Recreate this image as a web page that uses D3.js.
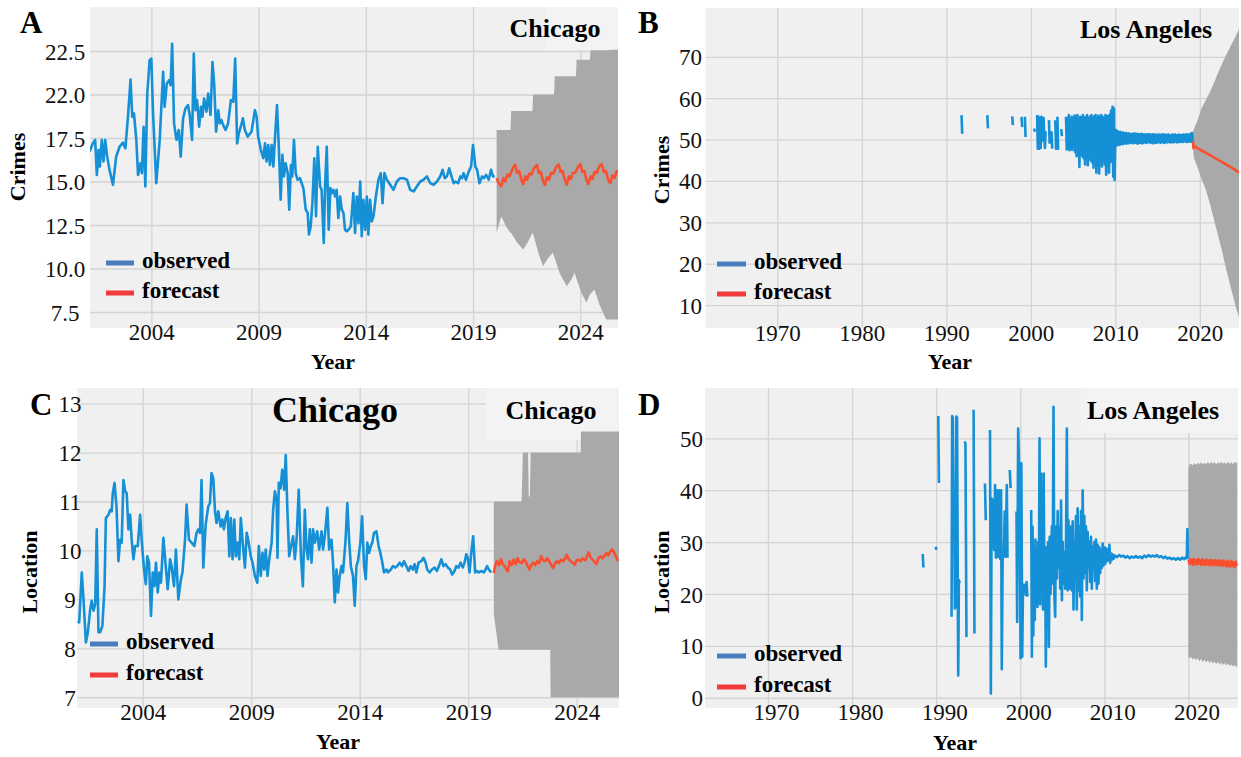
<!DOCTYPE html>
<html><head><meta charset="utf-8">
<script src="https://cdn.jsdelivr.net/npm/d3@7"></script>
<style>body{margin:0;background:#fff}svg{display:block}svg text{font-family:"Liberation Serif","Times New Roman",Times,serif}</style>
</head><body>
<svg id="c" width="1241" height="757"></svg>
<script>
// ---------------- DATA ----------------
const yearTicksChi = [2004, 2009, 2014, 2019, 2024];
const yearTicksLA = [1970, 1980, 1990, 2000, 2010, 2020];
const crimeTicksChi = [7.5, 10, 12.5, 15, 17.5, 20, 22.5];
const crimeLabelsChi = ["7.5", "10.0", "12.5", "15.0", "17.5", "22.0", "22.5"];
const crimeTicksLA = [10, 20, 30, 40, 50, 60, 70];
const locTicksChi = [7, 8, 9, 10, 11, 12, 13];
const locTicksLA = [0, 10, 20, 30, 40, 50];

// A: Chicago crimes, observed [year, value]
const chiCrimeObs = [[2001.12,16.72],[2001.27,17.19],[2001.38,17.39],[2001.46,15.38],[2001.54,16.81],[2001.60,15.86],[2001.69,17.39],[2001.77,16.15],[2001.85,17.39],[2001.94,16.43],[2002.05,15.67],[2002.21,14.81],[2002.36,16.43],[2002.52,17.00],[2002.68,17.23],[2002.79,16.91],[2002.91,18.72],[2003.03,20.86],[2003.11,18.72],[2003.19,18.91],[2003.30,17.39],[2003.38,15.38],[2003.49,16.05],[2003.56,15.48],[2003.64,18.15],[2003.72,14.71],[2003.81,20.06],[2003.92,21.97],[2004.00,22.06],[2004.08,18.91],[2004.23,14.90],[2004.39,17.39],[2004.55,21.30],[2004.62,19.29],[2004.72,20.63],[2004.83,20.82],[2004.90,20.53],[2004.97,22.92],[2005.06,18.34],[2005.17,17.39],[2005.28,17.96],[2005.37,16.43],[2005.48,18.63],[2005.59,19.20],[2005.71,19.39],[2005.79,18.82],[2005.90,17.39],[2005.98,22.35],[2006.06,19.10],[2006.13,19.68],[2006.23,18.15],[2006.31,19.29],[2006.38,18.72],[2006.46,19.77],[2006.57,19.01],[2006.65,20.06],[2006.76,18.82],[2006.85,21.87],[2006.93,20.63],[2007.02,17.86],[2007.12,19.10],[2007.19,18.34],[2007.27,18.53],[2007.35,18.24],[2007.46,17.96],[2007.58,18.34],[2007.71,19.68],[2007.82,19.58],[2007.91,22.06],[2008.00,17.19],[2008.08,17.77],[2008.17,18.15],[2008.27,18.63],[2008.36,17.96],[2008.49,17.58],[2008.67,17.86],[2008.83,19.10],[2008.91,18.72],[2008.98,17.58],[2009.11,16.81],[2009.22,16.34],[2009.30,17.19],[2009.37,16.15],[2009.45,17.10],[2009.53,15.95],[2009.61,17.10],[2009.69,15.86],[2009.76,17.39],[2009.86,19.39],[2009.95,16.81],[2010.03,13.95],[2010.11,16.53],[2010.18,15.29],[2010.26,16.05],[2010.36,15.48],[2010.43,13.38],[2010.51,15.95],[2010.57,15.29],[2010.65,17.39],[2010.73,15.48],[2010.82,15.10],[2010.93,15.19],[2011.09,14.62],[2011.20,13.38],[2011.29,13.19],[2011.35,11.95],[2011.43,12.42],[2011.51,13.76],[2011.60,16.34],[2011.68,13.00],[2011.76,17.00],[2011.87,14.71],[2011.94,14.52],[2012.04,11.47],[2012.10,14.71],[2012.18,17.00],[2012.27,12.23],[2012.35,14.62],[2012.41,14.33],[2012.49,14.52],[2012.57,14.14],[2012.64,14.52],[2012.72,12.90],[2012.80,14.14],[2012.88,13.38],[2012.96,13.19],[2013.03,12.23],[2013.11,12.14],[2013.19,12.23],[2013.30,12.42],[2013.42,14.33],[2013.50,12.04],[2013.58,14.14],[2013.66,12.61],[2013.74,15.00],[2013.81,11.85],[2013.89,13.95],[2013.97,12.23],[2014.05,14.14],[2014.12,11.95],[2014.20,13.95],[2014.28,12.71],[2014.36,13.00],[2014.47,14.14],[2014.59,15.10],[2014.70,15.48],[2014.78,13.76],[2014.87,15.48],[2014.98,15.10],[2015.14,14.81],[2015.29,14.52],[2015.45,15.00],[2015.60,15.19],[2015.76,15.19],[2015.92,15.10],[2016.07,14.52],[2016.23,14.43],[2016.38,14.71],[2016.54,15.00],[2016.69,15.10],[2016.85,15.29],[2017.01,14.90],[2017.16,14.81],[2017.32,15.00],[2017.47,15.29],[2017.58,15.67],[2017.68,15.19],[2017.78,15.29],[2017.89,15.76],[2018.02,15.19],[2018.10,14.90],[2018.17,15.00],[2018.30,14.90],[2018.41,15.29],[2018.49,15.19],[2018.56,15.48],[2018.67,15.10],[2018.80,15.57],[2018.91,15.86],[2019.00,17.10],[2019.11,15.86],[2019.19,15.67],[2019.30,14.90],[2019.42,15.29],[2019.50,15.19],[2019.61,15.38],[2019.73,15.10],[2019.84,15.67],[2019.93,15.29],[2020.01,15.32]];
const chiCrimeFc = [[2020.10,15.2],[2020.20,14.9],[2020.32,14.73],[2020.42,15.2],[2020.50,15.0],[2020.60,15.4],[2020.70,15.3],[2020.85,15.75],[2020.96,15.97],[2021.05,15.5],[2021.15,15.6],[2021.25,15.1],[2021.34,14.85],[2021.44,15.3],[2021.52,15.1],[2021.62,15.45],[2021.72,15.4],[2021.86,15.8],[2021.98,15.95],[2022.07,15.5],[2022.16,15.55],[2022.26,15.05],[2022.35,14.8],[2022.45,15.25],[2022.54,15.1],[2022.64,15.5],[2022.74,15.45],[2022.88,15.85],[2023.00,15.97],[2023.09,15.55],[2023.18,15.6],[2023.28,15.1],[2023.37,14.82],[2023.47,15.3],[2023.56,15.15],[2023.66,15.5],[2023.76,15.5],[2023.90,15.85],[2024.00,16.0],[2024.10,15.55],[2024.19,15.6],[2024.29,15.1],[2024.38,14.85],[2024.48,15.3],[2024.57,15.15],[2024.67,15.55],[2024.77,15.5],[2024.90,15.9],[2025.00,16.0],[2025.10,15.55],[2025.20,15.6],[2025.30,15.1],[2025.40,14.9],[2025.50,15.35],[2025.60,15.2],[2025.70,15.6],[2025.80,15.55],[2025.90,15.85]];
// [year, lower, upper]
const chiCrimeBand = [[2020.10,12.04,17.96],[2020.20,12.5,17.96],[2020.32,12.99,17.96],[2020.55,12.4,17.96],[2020.75,12.04,17.96],[2020.78,12.04,19.05],[2021.05,11.5,19.05],[2021.34,11.09,19.05],[2021.55,11.5,19.05],[2021.77,12.04,19.05],[2021.80,12.0,20.0],[2022.05,10.9,20.0],[2022.26,10.13,20.0],[2022.50,10.6,20.0],[2022.72,10.90,20.0],[2022.78,10.7,20.0],[2022.81,10.6,21.05],[2023.05,9.7,21.05],[2023.37,8.98,21.05],[2023.60,9.4,21.05],[2023.74,9.75,21.05],[2023.80,9.5,21.05],[2023.83,9.4,22.0],[2024.05,8.6,22.0],[2024.29,8.03,22.0],[2024.45,8.5,22.0],[2024.48,8.55,22.55],[2024.66,8.79,22.55],[2024.90,7.9,22.55],[2025.21,7.07,22.55],[2025.90,7.07,22.6]];

// B: Los Angeles crimes
const laCrimeSparse = [[1991.80,55.9],[1991.88,51.4],null,[1994.85,55.9],[1994.93,52.7],null,[1997.80,55.6],[1997.88,53.5],null,[1998.90,55.5],[1998.98,53.0],null,[1999.30,55.5],[1999.38,50.6],null,[2000.40,52.7],[2000.48,51.9],null,[2000.75,55.9],[2000.83,47.8],[2000.92,55.5],[2001.00,47.8],[2001.08,55.0],[2001.17,48.0],[2001.25,55.5],[2001.33,49.5],null,[2001.50,55.5],[2001.58,51.5],[2001.67,48.0],[2001.75,52.0],null,[2002.15,54.7],[2002.23,49.0],null,[2002.45,52.0],[2002.53,47.8],null,[2002.90,54.7],[2002.98,47.8],[2003.06,48.2],null,[2003.15,55.5],[2003.23,47.5],null,[2003.60,52.5],[2003.68,50.8],null];
const laCrimeMonthlyStart = 2004.17;
const laCrimeMonthly = [55.5,47.6,55.0,48.0,55.9,47.4,54.5,47.8,55.5,47.5,
55.0,48.0,55.8,47.0,55.5,46.0,55.9,47.5,55.0,43.4,55.5,46.5,
55.2,46.0,55.9,45.5,55.0,44.0,55.5,46.5,55.9,43.8,55.0,46.0,
55.5,45.0,55.9,44.5,55.2,43.2,55.6,45.5,55.9,42.0,55.0,44.0,
55.8,41.8,55.4,45.0,55.9,43.5,55.5,45.0,55.0,44.0,55.9,41.5,
55.5,45.0,55.7,42.0,56.0,44.5,57.0,45.5,57.9,41.0,57.5,40.2,
50.5,52.3,48.6,52.0,48.8,51.8,48.7,51.9,49.0,51.6,48.9,51.7,
49.0,51.5,49.1,51.6,49.0,51.4,49.2,51.5,49.1,51.3,49.3,51.4,
49.2,51.3,49.1,51.5,49.3,51.2,49.2,51.4,49.0,51.3,49.2,51.2,
49.3,51.4,49.1,51.2,49.2,51.3,49.4,51.1,49.2,51.3,49.3,51.2,
49.4,51.3,49.2,51.1,49.3,51.2,49.1,51.3,49.3,51.0,49.2,51.2,
49.3,51.1,49.4,51.2,49.2,51.0,49.4,51.3,49.3,51.1,49.2,51.2,
49.4,51.0,49.3,51.2,49.5,51.1,49.3,51.0,49.4,51.2,49.3,51.1,
49.4,51.2,49.5,51.0,49.3,51.1,49.5,51.2,49.4,51.0,49.6,51.1,
49.4,51.2,49.6,51.0,49.5,51.3,49.4,51.1,49.6,51.2,49.5,51.4,
49.5,51.6,49.4];
const laCrimeFc = [[2019.20,49.6],[2019.25,47.9],[2019.32,48.4],[2020.00,47.6],[2021.00,46.5],[2022.00,45.3],[2023.00,44.1],[2024.00,42.9],[2024.70,42.0]];
const laCrimeBand = [[2019.15,49.5,51.5],[2019.30,45.5,52.5],[2019.70,43.5,54.5],[2020.20,40.5,57.5],[2020.70,38.0,59.5],[2021.20,34.5,61.5],[2021.70,30.5,63.8],[2022.20,26.5,66.3],[2022.70,22.5,68.6],[2023.20,18.0,70.8],[2023.70,14.0,72.8],[2024.20,10.0,74.8],[2024.70,6.5,77.0]];

// C: Chicago location
const chiLocObs = [[2001.01,8.56],[2001.07,8.53],[2001.19,9.55],[2001.27,9.00],[2001.38,8.12],[2001.47,8.33],[2001.58,8.80],[2001.65,8.97],[2001.73,8.77],[2001.81,8.90],[2001.88,10.43],[2001.96,8.33],[2002.04,8.33],[2002.14,8.46],[2002.24,9.27],[2002.30,10.66],[2002.42,10.73],[2002.50,10.83],[2002.57,10.80],[2002.62,11.17],[2002.70,11.38],[2002.79,10.90],[2002.88,9.78],[2002.96,10.22],[2003.03,10.16],[2003.11,11.44],[2003.19,11.21],[2003.26,11.17],[2003.34,10.43],[2003.42,10.73],[2003.49,10.22],[2003.57,9.82],[2003.65,10.09],[2003.77,10.09],[2003.88,10.73],[2003.95,10.22],[2004.06,9.61],[2004.14,9.31],[2004.21,9.88],[2004.29,9.75],[2004.38,8.66],[2004.46,9.55],[2004.54,9.27],[2004.61,9.75],[2004.69,9.14],[2004.77,9.55],[2004.84,9.34],[2004.95,10.26],[2005.06,9.68],[2005.15,9.21],[2005.26,9.82],[2005.33,9.68],[2005.44,9.27],[2005.53,10.02],[2005.64,9.00],[2005.76,9.41],[2005.83,9.55],[2005.95,10.22],[2006.02,10.94],[2006.13,10.22],[2006.25,10.16],[2006.38,10.09],[2006.48,10.36],[2006.56,10.43],[2006.64,10.36],[2006.71,11.44],[2006.79,9.65],[2006.90,10.53],[2007.02,10.90],[2007.10,10.97],[2007.17,11.58],[2007.25,11.48],[2007.33,10.80],[2007.40,10.56],[2007.48,10.80],[2007.59,10.49],[2007.67,10.63],[2007.74,10.43],[2007.82,10.66],[2007.91,10.80],[2007.99,9.88],[2008.06,10.66],[2008.14,9.82],[2008.22,10.63],[2008.29,9.88],[2008.37,10.16],[2008.45,9.82],[2008.52,10.66],[2008.62,10.09],[2008.71,9.65],[2008.79,10.36],[2008.86,10.22],[2008.98,9.88],[2009.06,9.75],[2009.17,9.48],[2009.28,9.34],[2009.35,10.09],[2009.44,9.48],[2009.52,9.95],[2009.60,9.61],[2009.67,10.02],[2009.75,9.48],[2009.83,9.82],[2009.94,10.16],[2010.01,10.83],[2010.09,11.21],[2010.17,11.04],[2010.21,9.85],[2010.27,11.38],[2010.35,11.27],[2010.43,11.65],[2010.52,11.24],[2010.59,11.95],[2010.67,10.77],[2010.75,9.88],[2010.82,10.05],[2010.93,10.29],[2011.01,9.82],[2011.09,10.22],[2011.19,11.24],[2011.29,9.88],[2011.38,9.27],[2011.47,10.83],[2011.55,10.02],[2011.62,9.82],[2011.70,10.43],[2011.78,9.75],[2011.85,10.43],[2011.93,10.16],[2012.04,10.39],[2012.13,10.02],[2012.24,10.39],[2012.31,10.02],[2012.39,10.29],[2012.51,10.87],[2012.59,10.02],[2012.70,10.22],[2012.77,9.75],[2012.85,8.94],[2012.93,9.61],[2013.00,9.14],[2013.08,9.48],[2013.16,9.68],[2013.23,9.55],[2013.34,10.16],[2013.43,10.97],[2013.51,10.22],[2013.59,9.68],[2013.69,9.48],[2013.77,8.87],[2013.85,9.68],[2013.92,9.78],[2014.03,10.16],[2014.11,10.70],[2014.20,9.68],[2014.28,9.41],[2014.35,10.16],[2014.43,9.95],[2014.51,10.09],[2014.58,10.16],[2014.66,10.36],[2014.77,10.39],[2014.87,10.09],[2014.95,9.95],[2015.03,9.78],[2015.12,9.55],[2015.23,9.61],[2015.30,9.55],[2015.43,9.61],[2015.53,9.68],[2015.64,9.65],[2015.73,9.68],[2015.84,9.75],[2015.95,9.68],[2016.04,9.78],[2016.15,9.68],[2016.25,9.58],[2016.35,9.68],[2016.45,9.61],[2016.53,9.72],[2016.61,9.55],[2016.71,9.75],[2016.84,9.78],[2016.94,9.85],[2017.04,9.75],[2017.11,9.61],[2017.22,9.55],[2017.33,9.61],[2017.45,9.65],[2017.56,9.58],[2017.65,9.68],[2017.76,9.82],[2017.86,9.68],[2017.96,9.72],[2018.06,9.65],[2018.17,9.61],[2018.26,9.51],[2018.37,9.58],[2018.45,9.68],[2018.55,9.65],[2018.65,9.75],[2018.75,9.65],[2018.83,9.75],[2018.91,9.92],[2018.98,9.85],[2019.06,9.55],[2019.14,9.95],[2019.23,10.29],[2019.32,9.55],[2019.41,9.58],[2019.49,9.55],[2019.60,9.58],[2019.72,9.55],[2019.80,9.61],[2019.87,9.68],[2019.95,9.61],[2020.06,9.55]];
const chiLocFc = [[2020.18,9.54],[2020.25,9.70],[2020.32,9.78],[2020.42,9.70],[2020.51,9.82],[2020.60,9.72],[2020.69,9.67],[2020.82,9.57],[2020.91,9.78],[2021.00,9.70],[2021.09,9.81],[2021.18,9.72],[2021.27,9.84],[2021.36,9.76],[2021.46,9.74],[2021.55,9.82],[2021.64,9.78],[2021.82,9.61],[2021.91,9.70],[2022.00,9.75],[2022.09,9.70],[2022.18,9.78],[2022.27,9.74],[2022.36,9.88],[2022.45,9.80],[2022.55,9.78],[2022.64,9.84],[2022.73,9.78],[2022.91,9.64],[2023.00,9.74],[2023.09,9.78],[2023.18,9.74],[2023.27,9.81],[2023.40,9.78],[2023.54,9.91],[2023.63,9.82],[2023.73,9.78],[2023.91,9.71],[2024.00,9.80],[2024.09,9.81],[2024.18,9.78],[2024.27,9.84],[2024.40,9.80],[2024.55,9.96],[2024.64,9.86],[2024.73,9.81],[2024.91,9.72],[2025.00,9.84],[2025.09,9.88],[2025.20,9.84],[2025.37,9.95],[2025.46,9.90],[2025.55,9.98],[2025.64,10.02],[2025.73,9.95],[2025.91,9.78]];
const chiLocBand = [[2020.18,8.7,11.0],[2020.40,7.97,11.0],[2021.46,7.97,11.0],[2021.52,7.97,12.0],[2021.76,7.97,12.0],[2021.79,7.97,11.1],[2021.84,7.97,11.1],[2021.88,7.97,12.0],[2022.78,7.97,12.0],[2022.80,7.0,12.0],[2024.18,7.0,12.0],[2024.20,7.0,12.43],[2025.95,7.0,12.43]];

// D: Los Angeles location
const laLocObs = [[1988.40,27.7],[1988.48,25.1],null,[1989.95,29.1],[1990.02,28.5],null,[1990.25,54.3],[1990.33,41.4],null,
[1991.83,15.6],[1991.90,54.3],[1991.98,54.0],[1992.06,37.5],[1992.14,37.0],[1992.22,17.2],[1992.30,17.5],[1992.40,54.2],[1992.48,54.0],[1992.62,4.3],[1992.70,22.7],[1992.80,22.1],null,
[1993.40,49.4],[1993.48,49.0],[1993.60,11.7],null,[1994.45,55.5],[1994.55,12.4],null,[1995.80,41.3],[1995.90,34.2],null,
[1996.40,51.6],[1996.50,0.8],[1996.60,38.4],[1996.70,29.1],[1996.80,38.0],[1996.90,28.5],[1997.00,41.0],[1997.10,27.0],[1997.25,40.0],[1997.35,27.2],[1997.50,40.0],[1997.60,26.8],[1997.72,40.0],[1997.80,5.5],[1997.90,26.9],[1998.05,27.3],[1998.15,35.9],[1998.25,27.2],[1998.40,41.0],[1998.48,27.0],null,
[1998.75,43.9],[1998.85,40.4],null,
[1999.55,35.9],[1999.63,14.6],[1999.75,51.9],[1999.85,45.0],[1999.93,44.8],[2000.03,7.6],[2000.13,45.2],[2000.23,7.9],[2000.33,22.0],null,
[2000.55,22.0],[2000.65,19.8],[2000.75,22.3],[2000.85,19.5],null,
[2001.30,36.2],[2001.38,7.9],[2001.46,33.0],[2001.55,12.0],[2001.63,29.0],[2001.72,15.0],[2001.80,30.5],[2001.88,19.0],[2001.97,25.0],[2002.05,17.5],[2002.13,30.0],[2002.21,20.0],[2002.29,50.0],[2002.37,18.0],[2002.45,43.2],[2002.53,21.0],[2002.62,35.0],[2002.70,17.0],[2002.78,43.2],[2002.87,22.0],[2002.95,28.0],[2003.04,6.0],[2003.12,29.0],[2003.20,18.0],[2003.30,30.0],[2003.40,9.8],[2003.50,31.0],[2003.60,20.0],[2003.75,33.0],[2003.85,22.0],[2003.95,56.1],[2004.05,20.0],[2004.15,15.6],[2004.25,33.0],[2004.35,23.0],[2004.45,36.0],[2004.55,25.0],[2004.65,32.8],[2004.75,21.0],[2004.85,38.0],[2004.95,18.8],[2005.05,30.0],[2005.14,22.0],[2005.24,28.0],[2005.34,21.0],[2005.44,30.0],[2005.54,51.9],[2005.64,20.7],[2005.73,34.2],[2005.83,21.0],[2005.93,33.0],[2006.03,25.0],[2006.13,20.7],[2006.23,34.0],[2006.33,17.0],[2006.43,30.0],[2006.53,25.0],[2006.62,35.0],[2006.72,17.0],[2006.82,36.5],[2006.92,20.7],[2007.02,33.0],[2007.12,19.5],[2007.22,36.0],[2007.32,15.0],[2007.42,40.0],[2007.52,23.0],[2007.62,35.0],[2007.71,24.0],[2007.81,33.0],[2007.91,20.7],[2008.01,32.0],[2008.11,25.2],[2008.21,30.0],[2008.31,22.3],[2008.41,31.0],[2008.51,21.0],[2008.61,29.1],[2008.71,25.5],[2008.81,30.0],[2008.90,22.5],[2009.00,30.5],[2009.10,21.0],[2009.20,29.5],[2009.30,22.0],[2009.40,29.0],[2009.50,24.0],[2009.60,28.5],[2009.70,25.0],[2009.80,29.7],[2009.89,25.5],[2010.00,29.0],[2010.10,25.8],[2010.20,28.8],[2010.29,26.3],[2010.40,28.5],[2010.50,26.5],[2010.60,29.5],[2010.69,26.0],[2010.80,27.8],[2010.90,26.6],[2011.00,27.6],[2011.10,26.8],[2011.25,27.4],[2011.50,27.1],[2011.75,27.5],[2012.00,27.2],[2012.25,27.4],[2012.50,27.0],[2012.75,27.3],[2013.00,26.9],[2013.25,27.2],[2013.50,27.0],[2013.75,27.3],[2014.00,27.0],[2014.25,27.2],[2014.50,26.9],[2014.75,27.4],[2015.00,27.1],[2015.25,27.5],[2015.50,27.2],[2015.75,27.4],[2016.00,27.2],[2016.25,27.5],[2016.50,27.1],[2016.75,27.3],[2017.00,26.9],[2017.25,27.2],[2017.50,26.8],[2017.75,27.0],[2018.00,26.7],[2018.25,26.9],[2018.50,26.6],[2018.75,26.9],[2019.00,26.6],[2019.25,27.0],[2019.50,26.7],[2019.70,27.1],[2019.80,26.9],[2019.87,32.5],[2019.93,27.0],[2020.00,26.8]];
const laLocFc = [[2020.02,26.6],[2020.12,25.8],[2020.22,26.7],[2020.32,25.9],[2020.42,26.5],[2020.52,25.6],[2020.62,26.8],[2020.72,25.9],[2020.82,26.4],[2020.92,25.7],[2021.02,26.6],[2021.12,25.8],[2021.22,26.7],[2021.32,25.9],[2021.42,26.3],[2021.52,25.6],[2021.62,26.7],[2021.72,25.8],[2021.82,26.4],[2021.92,25.6],[2022.02,26.6],[2022.12,25.7],[2022.22,26.6],[2022.32,25.8],[2022.42,26.3],[2022.52,25.5],[2022.62,26.6],[2022.72,25.8],[2022.82,26.3],[2022.92,25.6],[2023.02,26.5],[2023.12,25.6],[2023.22,26.5],[2023.32,25.7],[2023.42,26.2],[2023.52,25.5],[2023.62,26.5],[2023.72,25.6],[2023.82,26.2],[2023.92,25.5],[2024.02,26.4],[2024.12,25.5],[2024.22,26.4],[2024.32,25.6],[2024.42,26.1],[2024.52,25.3],[2024.62,26.4],[2024.72,25.5],[2024.82,26.1],[2024.92,25.3],[2025.02,26.3],[2025.12,25.4],[2025.22,26.2],[2025.32,25.4],[2025.42,26.0],[2025.52,25.2],[2025.62,26.2],[2025.72,25.4]];
const laLocBand = [[2019.98,7.9,44.2],[2020.10,7.5,44.9],[2020.30,7.9,45.1],[2020.50,7.3,44.8],[2020.70,7.7,45.2],[2020.90,7.2,44.9],[2021.10,7.6,45.3],[2021.30,7.0,45.0],[2021.50,7.5,45.4],[2021.70,6.9,45.0],[2021.90,7.3,45.3],[2022.10,6.8,45.0],[2022.30,7.2,45.4],[2022.50,6.7,45.1],[2022.70,7.1,45.5],[2022.90,6.6,45.1],[2023.10,7.0,45.4],[2023.30,6.5,45.0],[2023.50,6.9,45.4],[2023.70,6.4,45.1],[2023.90,6.8,45.5],[2024.10,6.3,45.1],[2024.30,6.7,45.4],[2024.50,6.2,45.0],[2024.70,6.6,45.5],[2024.90,6.1,45.1],[2025.10,6.4,45.4],[2025.30,6.0,45.0],[2025.50,6.3,45.5],[2025.70,5.9,45.2],[2025.80,6.1,45.4]];

// ---------------- DRAWING ----------------
const FONT = '"Liberation Serif","Times New Roman",Times,serif';
const OBS = '#1590d6', FC = '#fa4f2f', BAND = '#a9a9a9', BG = '#f0f0f0', GRID = '#d3d3d3';
const svg = d3.select('#c');
const defs = svg.append('defs');

const laCrimeObs = laCrimeSparse.concat(laCrimeMonthly.map((v, i) => [laCrimeMonthlyStart + i / 12, v]));

function txt(sel, size, bold) {
  return sel.style('font-family', FONT).style('font-size', size + 'px')
    .style('font-weight', bold ? 'bold' : 'normal').attr('fill', '#000');
}

function panel(p) {
  const x = d3.scaleLinear().domain(p.xd).range([p.l, p.r]);
  const y = d3.scaleLinear().domain(p.yd).range([p.b, p.t]);
  const W = p.r - p.l, H = p.b - p.t;
  const cid = 'clip' + p.letter;
  defs.append('clipPath').attr('id', cid).append('rect')
    .attr('x', p.l).attr('y', p.t).attr('width', W).attr('height', H);
  const g = svg.append('g');
  g.append('rect').attr('x', p.l).attr('y', p.t).attr('width', W).attr('height', H).attr('fill', BG);

  const gx = g.append('g').attr('transform', `translate(0,${p.b})`)
    .call(d3.axisBottom(x).tickValues(p.xt).tickSize(-H).tickFormat(d3.format('d')));
  gx.select('.domain').remove();
  gx.selectAll('.tick line').attr('stroke', GRID).attr('stroke-width', 1.3);
  txt(gx.selectAll('.tick text'), 23, false).attr('y', p.xly).attr('dy', 0).attr('dx', p.xdx || 0).attr('fill', '#111');

  const gy = g.append('g').attr('transform', `translate(${p.l},0)`)
    .call(d3.axisLeft(y).tickValues(p.yt).tickSize(-W).tickFormat((d, i) => p.ylab[i]));
  gy.select('.domain').remove();
  gy.selectAll('.tick line').attr('stroke', GRID).attr('stroke-width', 1.3);
  txt(gy.selectAll('.tick text'), 23, false).attr('x', p.ylx).attr('dy', '0.35em').attr('text-anchor', p.yanchor).attr('fill', '#111');

  if (p.box) {
    g.append('rect').attr('x', p.box[0]).attr('y', p.box[1]).attr('width', p.box[2]).attr('height', p.box[3]).attr('fill', '#f3f3f3');
  }

  const plot = g.append('g').attr('clip-path', `url(#${cid})`);
  plot.append('path').datum(p.band)
    .attr('d', d3.area().x(d => x(d[0])).y0(d => y(d[1])).y1(d => y(d[2])))
    .attr('fill', BAND);
  const line = d3.line().defined(d => d !== null).x(d => x(d[0])).y(d => y(d[1]));
  plot.append('path').datum(p.obs).attr('d', line)
    .attr('fill', 'none').attr('stroke', OBS).attr('stroke-width', 2.6).attr('stroke-linejoin', 'round');
  plot.append('path').datum(p.fc).attr('d', line)
    .attr('fill', 'none').attr('stroke', FC).attr('stroke-width', 2.6).attr('stroke-linejoin', 'round');

  txt(g.append('text').attr('x', p.letterPos[0]).attr('y', p.letterPos[1]).text(p.letter), 31, true);
  p.titles.forEach(t => {
    txt(g.append('text').attr('x', t[1]).attr('y', t[2]).text(t[0]).attr('text-anchor', 'middle'), t[3], true);
  });
  txt(g.append('text').attr('transform', `translate(${p.yTitle[1]},${p.yTitle[2]}) rotate(-90)`)
    .attr('text-anchor', 'middle').attr('dy', '0.35em').text(p.yTitle[0]), 22, true);
  txt(g.append('text').attr('x', p.xTitle[0]).attr('y', p.xTitle[1]).attr('text-anchor', 'middle').text('Year'), 22, true);

  const leg = [['observed', '#4a7dbd', p.leg[2]], ['forecast', '#f23c3c', p.leg[3]]];
  leg.forEach(L => {
    g.append('line').attr('x1', p.leg[0]).attr('x2', p.leg[1]).attr('y1', L[2]).attr('y2', L[2])
      .attr('stroke', L[1]).attr('stroke-width', 5);
    txt(g.append('text').attr('x', p.leg[1] + 8).attr('y', L[2] + 5).text(L[0]), 23, true);
  });
}

panel({letter: 'A', l: 90, r: 618, t: 7, b: 328, xd: [2001.14, 2025.76], yd: [6.58, 25.03],
  xt: yearTicksChi, yt: crimeTicksChi, ylab: crimeLabelsChi, ylx: -25, yanchor: 'middle', xly: 12,
  box: [546, 7, 72, 43],
  band: chiCrimeBand, obs: chiCrimeObs, fc: chiCrimeFc,
  letterPos: [20, 33], titles: [['Chicago', 555, 37, 26]], yTitle: ['Crimes', 17, 167], xTitle: [333, 369],
  leg: [106, 134, 263, 293]});

panel({letter: 'B', l: 705.5, r: 1239, t: 8, b: 328, xd: [1961.5, 2024.64], yd: [4.45, 81.8],
  xt: yearTicksLA, yt: crimeTicksLA, ylab: crimeTicksLA.map(String), ylx: -3.5, yanchor: 'end', xly: 13,
  band: laCrimeBand, obs: laCrimeObs, fc: laCrimeFc,
  letterPos: [638, 33], titles: [['Los Angeles', 1146, 38, 26]], yTitle: ['Crimes', 661, 170], xTitle: [950, 369],
  leg: [717, 746, 264, 294]});

panel({letter: 'C', l: 77, r: 619, t: 388, b: 708, xd: [2000.97, 2025.95], yd: [6.78, 13.32],
  xt: yearTicksChi, yt: locTicksChi, ylab: locTicksChi.map(String), ylx: -7, yanchor: 'middle', xly: 12,
  box: [486, 388, 133, 52],
  band: chiLocBand, obs: chiLocObs, fc: chiLocFc,
  letterPos: [30, 415], titles: [['Chicago', 335, 422, 36], ['Chicago', 551, 419, 26]], yTitle: ['Location', 29, 572], xTitle: [338, 749],
  leg: [90, 118, 644, 675]});

panel({letter: 'D', l: 705, r: 1238, t: 388, b: 708, xd: [1962.51, 2025.89], yd: [-1.98, 59.7],
  xt: yearTicksLA, yt: locTicksLA, ylab: locTicksLA.map(String), ylx: -2, yanchor: 'end', xly: 12, xdx: 8,
  box: [1081, 388, 157, 45],
  band: laLocBand, obs: laLocObs, fc: laLocFc,
  letterPos: [638, 415], titles: [['Los Angeles', 1153, 419, 26]], yTitle: ['Location', 661, 572], xTitle: [955, 750],
  leg: [717, 746, 656, 687]});
</script>
</body></html>
